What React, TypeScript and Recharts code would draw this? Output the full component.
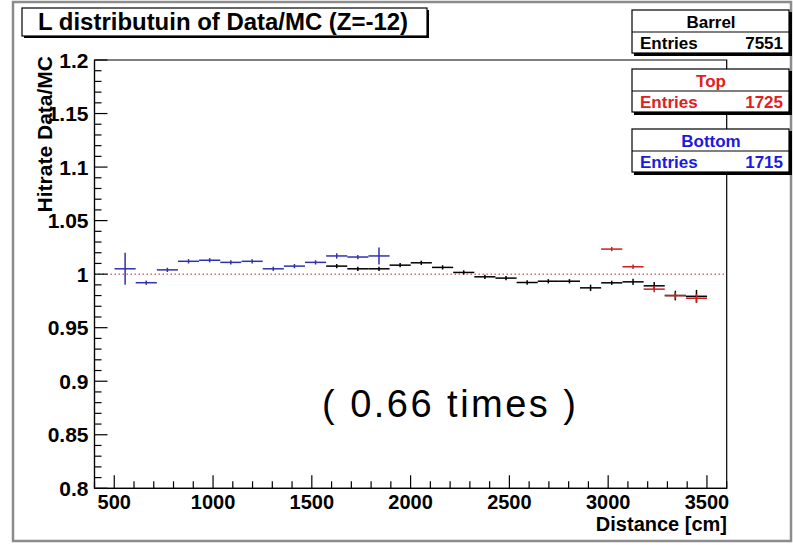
import React from 'react';
import { ScatterChart, Scatter, XAxis, YAxis, ErrorBar, ReferenceLine, ReferenceArea } from 'recharts';

// bin centres along the distance axis [cm]
const binCenters = [555, 662, 769, 876, 983, 1090, 1198, 1305, 1412, 1519, 1626, 1733, 1840, 1947, 2054, 2162, 2269, 2376, 2483, 2590, 2697, 2804, 2911, 3018, 3126, 3233, 3340, 3447];
const binHalfWidth = 53.5;

// Bottom (blue): bins 0..12
const bottomRatio = [1.005, 0.992, 1.004, 1.012, 1.013, 1.011, 1.012, 1.005, 1.0075, 1.011, 1.017, 1.016, 1.017];
const bottomErr = [0.015, 0.002, 0.002, 0.002, 0.002, 0.002, 0.002, 0.002, 0.002, 0.002, 0.0025, 0.002, 0.008];

// Barrel (black): bins 10..27
const barrelRatio = [1.0075, 1.005, 1.005, 1.0084, 1.0106, 1.0063, 1.0016, 0.9975, 0.9963, 0.9922, 0.9934, 0.9934, 0.9872, 0.9919, 0.9928, 0.9891, 0.98, 0.9793];
const barrelErr = [0.002, 0.002, 0.002, 0.002, 0.002, 0.002, 0.002, 0.002, 0.002, 0.002, 0.002, 0.002, 0.003, 0.002, 0.003, 0.0035, 0.0045, 0.006];

// Top (red): bins 23..27
const topRatio = [1.0234, 1.0069, 0.986, 0.98, 0.9775];
const topErr = [0.002, 0.002, 0.003, 0.003, 0.004];

const xMajorTicks = [500, 1000, 1500, 2000, 2500, 3000, 3500];
const yMajorLabels = ['0.8', '0.85', '0.9', '0.95', '1', '1.05', '1.1', '1.15', '1.2'];

const xMinorTicks: number[] = [];
for (let v = 400; v <= 3600; v += 100) xMinorTicks.push(v);
const yMinorTicks: number[] = [];
for (let i = 0; i <= 40; i++) yMinorTicks.push(Math.round((0.8 + i * 0.01) * 100) / 100);

const bottomData = bottomRatio.map((y, i) => ({ x: binCenters[i], y, ex: binHalfWidth, ey: bottomErr[i] }));
const barrelData = barrelRatio.map((y, i) => ({ x: binCenters[i + 10], y, ex: binHalfWidth, ey: barrelErr[i] }));
const topData = topRatio.map((y, i) => ({ x: binCenters[i + 23], y, ex: binHalfWidth, ey: topErr[i] }));

const FONT = '"Liberation Sans", Arial, Helvetica, sans-serif';
const BLUE_LINE = '#3030b0';
const RED_LINE = '#c82020';
const BLUE_TEXT = '#1a1ae0';
const RED_TEXT = '#e02020';

const XTick = (props: any) => {
  const { x, y, payload } = props;
  const v = payload.value;
  const major = xMajorTicks.includes(v);
  return (
    <g>
      <line x1={x} x2={x} y1={y} y2={y - (major ? 13 : 7)} stroke="#000" strokeWidth={1.2} />
      {major && (
        <text x={x} y={y + 21} textAnchor="middle" fontFamily={FONT} fontWeight="bold" fontSize={20} fill="#000">
          {v}
        </text>
      )}
    </g>
  );
};

const YTick = (props: any) => {
  const { x, y, payload } = props;
  const v = payload.value;
  const k = Math.round(v * 100);
  const major = k % 5 === 0;
  const label = major ? yMajorLabels[(k - 80) / 5] : '';
  return (
    <g>
      <line x1={x} x2={x + (major ? 13 : 7)} y1={y} y2={y} stroke="#000" strokeWidth={1.2} />
      {major && (
        <text x={x - 6} y={y + 7.5} textAnchor="end" fontFamily={FONT} fontWeight="bold" fontSize={21} fill="#000">
          {label}
        </text>
      )}
    </g>
  );
};

const noShape = () => <g />;

const StatBox = ({ y, title, value, color }: { y: number; title: string; value: string; color: string }) => (
  <g>
    <rect x={634} y={y + 2} width={158} height={44} fill="#000" />
    <rect x={632} y={y} width={157} height={43} fill="#fff" stroke="#000" strokeWidth={1.2} />
    <line x1={632} x2={789} y1={y + 22} y2={y + 22} stroke="#000" strokeWidth={1.2} />
    <text x={711} y={y + 17.5} textAnchor="middle" fontFamily={FONT} fontWeight="bold" fontSize={17} fill={color}>
      {title}
    </text>
    <text x={640} y={y + 39} textAnchor="start" fontFamily={FONT} fontWeight="bold" fontSize={17} fill={color}>
      Entries
    </text>
    <text x={783} y={y + 39} textAnchor="end" fontFamily={FONT} fontWeight="bold" fontSize={17} fill={color}>
      {value}
    </text>
  </g>
);

export default function App() {
  return (
    <div style={{ position: 'absolute', left: 0, top: 0, width: 793, height: 545, background: '#fff' }}>
      <ScatterChart width={793} height={545} margin={{ top: 60, right: 66.3, bottom: 0, left: 0 }}>
        <XAxis
          type="number"
          dataKey="x"
          domain={[400, 3600]}
          ticks={xMinorTicks}
          interval={0}
          tick={<XTick />}
          tickLine={false}
          tickSize={0}
          tickMargin={0}
          height={56.7}
          axisLine={{ stroke: '#000', strokeWidth: 1.2 }}
          allowDataOverflow
        />
        <YAxis
          type="number"
          dataKey="y"
          domain={[0.8, 1.2]}
          ticks={yMinorTicks}
          interval={0}
          tick={<YTick />}
          tickLine={false}
          tickSize={0}
          tickMargin={0}
          width={94.5}
          axisLine={{ stroke: '#000', strokeWidth: 1.2 }}
          allowDataOverflow
        />
        <ReferenceArea x1={400} x2={3600} y1={0.8} y2={1.2} fill="none" stroke="#000" strokeWidth={1.2} />
        <ReferenceLine y={1} stroke="#d02020" strokeWidth={1} strokeDasharray="1.5 2.5" />
        <Scatter data={barrelData} shape={noShape} isAnimationActive={false}>
          <ErrorBar dataKey="ex" direction="x" width={0} stroke="#000" strokeWidth={1.5} isAnimationActive={false} />
          <ErrorBar dataKey="ey" direction="y" width={0} stroke="#000" strokeWidth={1.5} isAnimationActive={false} />
        </Scatter>
        <Scatter data={topData} shape={noShape} isAnimationActive={false}>
          <ErrorBar dataKey="ex" direction="x" width={0} stroke={RED_LINE} strokeWidth={1.5} isAnimationActive={false} />
          <ErrorBar dataKey="ey" direction="y" width={0} stroke={RED_LINE} strokeWidth={1.5} isAnimationActive={false} />
        </Scatter>
        <Scatter data={bottomData} shape={noShape} isAnimationActive={false}>
          <ErrorBar dataKey="ex" direction="x" width={0} stroke={BLUE_LINE} strokeWidth={1.5} isAnimationActive={false} />
          <ErrorBar dataKey="ey" direction="y" width={0} stroke={BLUE_LINE} strokeWidth={1.5} isAnimationActive={false} />
        </Scatter>
      </ScatterChart>
      <svg width={793} height={545} style={{ position: 'absolute', left: 0, top: 0, pointerEvents: 'none' }}>
        <rect x={13} y={2} width={778} height={539} fill="none" stroke="#8c8c8c" strokeWidth={2.5} />
        <rect x={24} y={10} width={405} height={28} fill="#000" />
        <rect x={22} y={8} width={405} height={28} fill="#fff" stroke="#000" strokeWidth={1.2} />
        <text x={38} y={29.5} fontFamily={FONT} fontWeight="bold" fontSize={23} fill="#000" textLength={370} lengthAdjust="spacingAndGlyphs">
          L distributuin of Data/MC (Z=-12)
        </text>
        <StatBox y={10} title="Barrel" value="7551" color="#000" />
        <StatBox y={69} title="Top" value="1725" color={RED_TEXT} />
        <StatBox y={129} title="Bottom" value="1715" color={BLUE_TEXT} />
        <text x={52} y={56} textAnchor="end" transform="rotate(-90, 52, 56)" fontFamily={FONT} fontWeight="bold" fontSize={21} fill="#000">
          Hitrate Data/MC
        </text>
        <text x={727} y={531} textAnchor="end" fontFamily={FONT} fontWeight="bold" fontSize={20} fill="#000">
          Distance [cm]
        </text>
        <text x={449} y={417} textAnchor="middle" fontFamily={FONT} fontSize={38} fill="#000" textLength={254} lengthAdjust="spacing">
          ( 0.66 times )
        </text>
      </svg>
    </div>
  );
}
